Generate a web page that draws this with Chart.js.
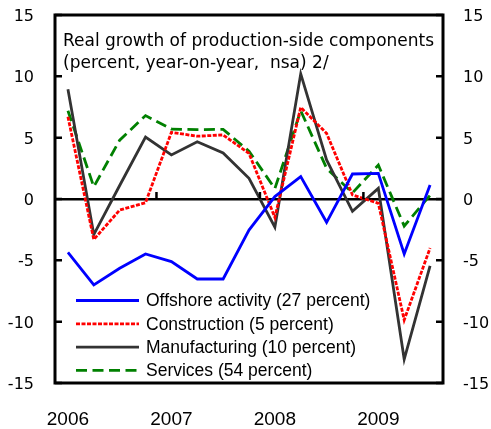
<!DOCTYPE html>
<html><head><meta charset="utf-8">
<script src="https://cdn.jsdelivr.net/npm/chart.js@4"></script>
<style>html,body{margin:0;padding:0;background:#fff}#wrap{width:491px;height:429px}</style>
</head><body><div id="wrap"><canvas id="c" width="491" height="429"></canvas></div>
<script>
const quarters = ['2006Q1','2006Q2','2006Q3','2006Q4','2007Q1','2007Q2','2007Q3','2007Q4','2008Q1','2008Q2','2008Q3','2008Q4','2009Q1','2009Q2','2009Q3'];
const yearLabels = ['2006','','','','2007','','','','2008','','','','2009','',''];
const offshore = [-4.35, -7.0, -5.65, -4.48, -5.1, -6.52, -6.52, -2.53, 0.2, 1.82, -1.9, 2.04, 2.09, -4.48, 1.14];
const construction = [6.7, -3.3, -0.9, -0.3, 5.43, 5.12, 5.22, 3.72, -1.5, 7.47, 5.35, 0.33, -0.35, -9.86, -4.0];
const manufacturing = [8.94, -2.9, 1.1, 5.05, 3.59, 4.67, 3.75, 1.69, -2.3, 10.2, 3.18, -1.0, 0.87, -13.07, -5.46];
const services = [7.2, 1.0, 4.8, 6.8, 5.7, 5.65, 5.68, 3.9, 0.85, 7.2, 2.5, 0.5, 2.77, -2.2, 0.3];
const seriesNames = ['Offshore activity (27 percent)','Construction (5 percent)','Manufacturing (10 percent)','Services (54 percent)'];
const yTicks = [15, 10, 5, 0, -5, -10, -15];
const titleLines = ['Real growth of production-side components', '(percent, year-on-year,  nsa) 2/'];
const yearBoundaries = [3.5, 7.5, 11.5];

const FONT = 'DejaVu Sans';
const FONT2 = 'Liberation Sans';

const decor = {
  id: 'decor',
  afterDatasetsDraw(chart) {
    const ctx = chart.ctx;
    const a = chart.chartArea;
    const y = chart.scales.y, x = chart.scales.x;
    ctx.save();
    ctx.strokeStyle = '#000';
    ctx.lineWidth = 2.5;
    yTicks.forEach(v => {
      const py = y.getPixelForValue(v);
      ctx.beginPath();
      ctx.moveTo(a.left, py); ctx.lineTo(a.left + 7, py);
      ctx.moveTo(a.right, py); ctx.lineTo(a.right - 7, py);
      ctx.stroke();
    });
    const y0 = y.getPixelForValue(0);
    yearBoundaries.forEach(b => {
      const px = (x.getPixelForValue(Math.floor(b)) + x.getPixelForValue(Math.ceil(b))) / 2 - 2;
      ctx.beginPath();
      ctx.moveTo(px, y0); ctx.lineTo(px, y0 - 7);
      ctx.stroke();
    });
    ctx.lineWidth = 3;
    ctx.strokeRect(a.left, a.top, a.right - a.left, a.bottom - a.top);
    ctx.fillStyle = '#000';
    ctx.font = '17px "' + FONT + '"';
    ctx.textBaseline = 'alphabetic';
    ctx.textAlign = 'left';
    ctx.fillText(titleLines[0], 63, 46);
    ctx.fillText(titleLines[1], 63, 68);
    ctx.font = '17.5px "' + FONT2 + '"';
    ctx.textBaseline = 'middle';
    chart.data.datasets.forEach((ds, i) => {
      const ly = 300.5 + i * 23.3;
      ctx.beginPath();
      ctx.strokeStyle = ds.borderColor;
      ctx.lineWidth = ds.borderWidth;
      ctx.setLineDash(ds.borderDash || []);
      ctx.moveTo(76, ly); ctx.lineTo(139, ly);
      ctx.stroke();
      ctx.setLineDash([]);
      ctx.fillText(ds.label, 146, ly + 1);
    });
    ctx.restore();
  }
};

const tickFont = { family: FONT, size: 16 };
const noPad = s => { s.paddingTop = 0; s.paddingBottom = 0; };

new Chart(document.getElementById('c'), {
  type: 'line',
  data: {
    labels: quarters,
    datasets: [
      { label: seriesNames[0], data: offshore, borderColor: '#0000ff', borderWidth: 2.8 },
      { label: seriesNames[1], data: construction, borderColor: '#ff0000', borderWidth: 2.8, borderDash: [4, 1.5] },
      { label: seriesNames[2], data: manufacturing, borderColor: '#333333', borderWidth: 2.8 },
      { label: seriesNames[3], data: services, borderColor: '#008000', borderWidth: 2.8, borderDash: [11, 5.5] }
    ]
  },
  options: {
    responsive: false,
    animation: false,
    devicePixelRatio: 1,
    layout: { padding: { top: 15, left: 0, right: 0, bottom: 0 } },
    elements: { point: { radius: 0 }, line: { tension: 0, fill: false } },
    plugins: { legend: { display: false }, title: { display: false }, tooltip: { enabled: false } },
    scales: {
      x: {
        type: 'category',
        offset: true,
        grid: { display: false },
        border: { display: false },
        ticks: {
          autoSkip: false, maxRotation: 0, minRotation: 0,
          font: { family: FONT2, size: 19 }, color: '#000', padding: 17,
          callback: (v, i) => yearLabels[i]
        },
        afterFit: s => { s.height = 46; s.paddingLeft = 0; s.paddingRight = 0; }
      },
      y: {
        position: 'left',
        min: -15, max: 15,
        border: { display: false },
        grid: {
          drawTicks: false,
          color: c => (c.tick && c.tick.value === 0) ? '#000' : 'rgba(0,0,0,0)',
          lineWidth: 2.5
        },
        ticks: { stepSize: 5, font: tickFont, color: '#000', padding: 21, labelOffset: 2 },
        afterBuildTicks: s => { s.ticks = yTicks.map(v => ({ value: v })); },
        afterFit: s => { s.width = 55; noPad(s); }
      },
      y2: {
        position: 'right',
        min: -15, max: 15,
        border: { display: false },
        grid: { display: false, drawTicks: false },
        ticks: { stepSize: 5, font: tickFont, color: '#000', padding: 20, labelOffset: 2 },
        afterBuildTicks: s => { s.ticks = yTicks.map(v => ({ value: v })); },
        afterFit: s => { s.width = 48; noPad(s); }
      }
    }
  },
  plugins: [decor]
});
</script></body></html>
